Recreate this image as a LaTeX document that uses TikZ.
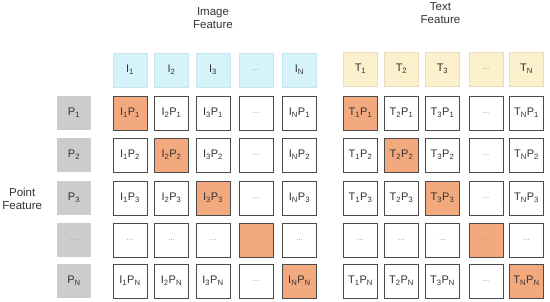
\documentclass[tikz,border=0pt]{standalone}
\usepackage{fontspec}
\setmainfont{Liberation Sans}
\usetikzlibrary{positioning}
\definecolor{softcyan}{HTML}{D6F3FA}
\definecolor{cyanline}{HTML}{C4E6EE}
\definecolor{softyellow}{HTML}{FDF0CC}
\definecolor{yellowline}{HTML}{E9DDBF}
\definecolor{hit}{HTML}{F2A97E}
\definecolor{cellline}{HTML}{4A4A4A}
\definecolor{greybox}{HTML}{CCCCCC}
\definecolor{dotgray}{HTML}{9A9A9A}
\definecolor{labeltext}{HTML}{333333}
\newcommand{\ix}[1]{\textsubscript{#1}}
\newcommand{\dotcell}{{\color{dotgray}\fontsize{8}{9}\selectfont...}}
\tikzset{
  cell/.style={
    rectangle, draw=cellline, fill=white, line width=0.9pt,
    minimum size=34pt, inner sep=0pt,
    font=\fontsize{11}{12}\selectfont, text=labeltext
  },
  hitcell/.style={cell, fill=hit},
  imghead/.style={cell, fill=softcyan, draw=cyanline},
  txthead/.style={cell, fill=softyellow, draw=yellowline},
  pointbox/.style={cell, fill=greybox, draw=none},
  label/.style={font=\fontsize{11.5}{13.5}\selectfont, text=labeltext, align=center},
}
\begin{document}
\begin{tikzpicture}[x=1pt, y=-1pt]
  \useasboundingbox (0,0) rectangle (550,302);

  % point features
  \foreach \r/\y/\rs in {1/113/1, 2/155/2, 3/198/3, 4/240/d, 5/281/N} {
    \ifnum\r=4 \def\txt{\dotcell}\else\def\txt{P\ix{\rs}}\fi
    \node[pointbox] (p-\r) at (74,\y) {\txt};
  }

  % image features and their products
  \foreach \c/\x/\cs in {1/130/1, 2/171.5/2, 3/213/3, 4/256/d, 5/299.5/N} {
    \ifnum\c=4 \def\txt{\dotcell}\else\def\txt{I\ix{\cs}}\fi
    \node[imghead] (ih-\c) at (\x,70) {\txt};
    \foreach \r/\y/\rs in {1/113/1, 2/155/2, 3/198/3, 4/240/d, 5/281/N} {
      \ifnum\c=\r \def\kind{hitcell}\else\def\kind{cell}\fi
      \ifnum\c=4 \def\txt{\dotcell}\else
        \ifnum\r=4 \def\txt{\dotcell}\else\def\txt{I\ix{\cs}P\ix{\rs}}\fi\fi
      \node[\kind] (i-\c-\r) at (\x,\y) {\txt};
    }
  }

  % text features and their products
  \foreach \c/\x/\cs in {1/360.5/1, 2/401.5/2, 3/442.5/3, 4/486/d, 5/526.5/N} {
    \ifnum\c=4 \def\txt{\dotcell}\else\def\txt{T\ix{\cs}}\fi
    \node[txthead] (th-\c) at (\x,69) {\txt};
    \foreach \r/\y/\rs in {1/113/1, 2/155/2, 3/198/3, 4/240/d, 5/281/N} {
      \ifnum\c=\r \def\kind{hitcell}\else\def\kind{cell}\fi
      \ifnum\c=4 \def\txt{\dotcell}\else
        \ifnum\r=4 \def\txt{\dotcell}\else\def\txt{T\ix{\cs}P\ix{\rs}}\fi\fi
      \node[\kind] (t-\c-\r) at (\x,\y) {\txt};
    }
  }

  % group labels
  \node[label, above=20pt of ih-3] (imglabel) {Image\\Feature};
  \node[label, above=24pt of th-3, xshift=-2pt] (txtlabel) {Text\\Feature};
  \node[label, left=11pt of p-3, yshift=-1pt] (ptlabel) {Point\\Feature};
\end{tikzpicture}
\end{document}
